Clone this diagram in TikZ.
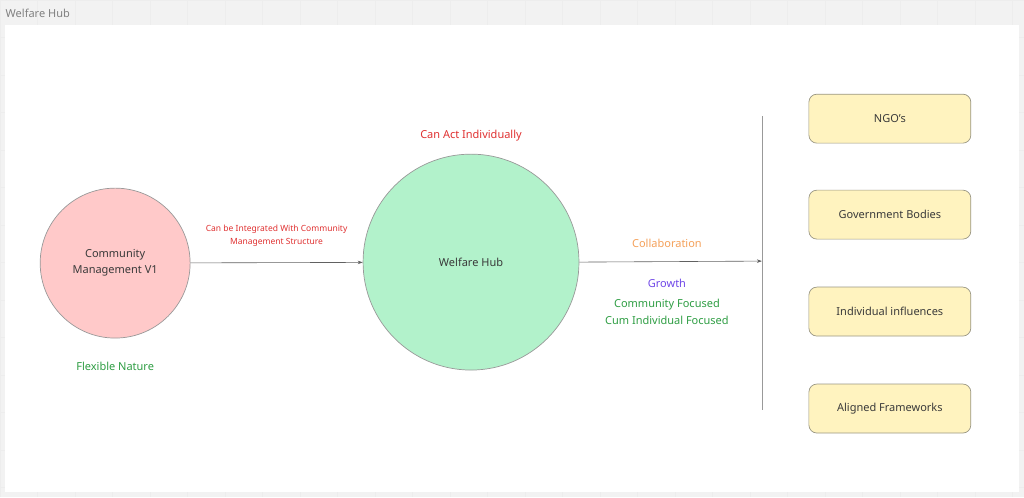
\documentclass[tikz,border=0pt]{standalone}
\usepackage{fontspec}
\setmainfont{Noto Sans}
\usetikzlibrary{arrows.meta}
\definecolor{pinkfill}{HTML}{FFC9C9}
\definecolor{mintfill}{HTML}{B2F2CB}
\definecolor{yellowfill}{HTML}{FFF3BF}
\definecolor{boxline}{HTML}{9A9784}
\definecolor{inkgray}{HTML}{3A3A3A}
\definecolor{redtxt}{HTML}{E03131}
\definecolor{greentxt}{HTML}{2F9E44}
\definecolor{orangetxt}{HTML}{F5A15A}
\definecolor{purpletxt}{HTML}{7048E8}
\tikzset{
  hubcircle/.style={circle,draw=gray!80,line width=0.7pt,inner sep=0pt,text=inkgray,align=center,font=\fontsize{11}{16}\selectfont},
  partnerbox/.style={draw=boxline,fill=yellowfill,rounded corners=8pt,line width=0.7pt,minimum width=162pt,minimum height=49pt,text=inkgray,font=\fontsize{11}{14}\selectfont},
  note/.style={align=center,font=\fontsize{11}{17}\selectfont},
  link/.style={draw=inkgray!80,line width=0.6pt,-{Stealth[length=5pt,width=3.5pt]}}
}
\begin{document}
\begin{tikzpicture}[x=1pt,y=-1pt]
  \fill[gray!10](0,0)rectangle(1024,497);
  \draw[gray!14,step=37.5pt](0,0)grid(1024,497);
  \fill[white](5,25)rectangle(1019,492);
  \useasboundingbox(0,0)rectangle(1024,497);
  \node[anchor=west,text=gray,font=\fontsize{11}{13}\selectfont](title)at(2,13){Welfare Hub};

  \node[hubcircle,fill=pinkfill,minimum size=150pt](cm)at(115,263){Community\\Management V1};
  \node[hubcircle,fill=mintfill,minimum size=216pt](hub)at(471,262){Welfare Hub};
  \node[note,text=greentxt](flex)at(115,366){Flexible Nature};
  \node[note,text=redtxt](act)at(471,135){Can Act Individually};

  \coordinate(bartop)at(762,116);
  \coordinate(barbot)at(762,410);
  \coordinate(barmid)at(762,261);
  \draw[gray!80,line width=0.7pt](bartop)--(barbot);

  \draw[link](cm)--(hub)node[midway,above=12pt,text=redtxt,align=center,font=\fontsize{8.5}{13}\selectfont](integ){Can be Integrated With Community\\Management Structure};
  \draw[link](hub.east)--(barmid);

  \node[note,text=orangetxt](collab)at(667,243){Collaboration};
  \node[note,text=purpletxt](growth)at(667,283){Growth};
  \node[note,text=greentxt](focus)at(667,312){Community Focused\\Cum Individual Focused};

  \node[partnerbox](ngo)at(890,118.5){NGO's};
  \node[partnerbox](gov)at(890,214.5){Government Bodies};
  \node[partnerbox](ind)at(890,311.5){Individual influences};
  \node[partnerbox](frame)at(890,408.5){Aligned Frameworks};
\end{tikzpicture}
\end{document}
